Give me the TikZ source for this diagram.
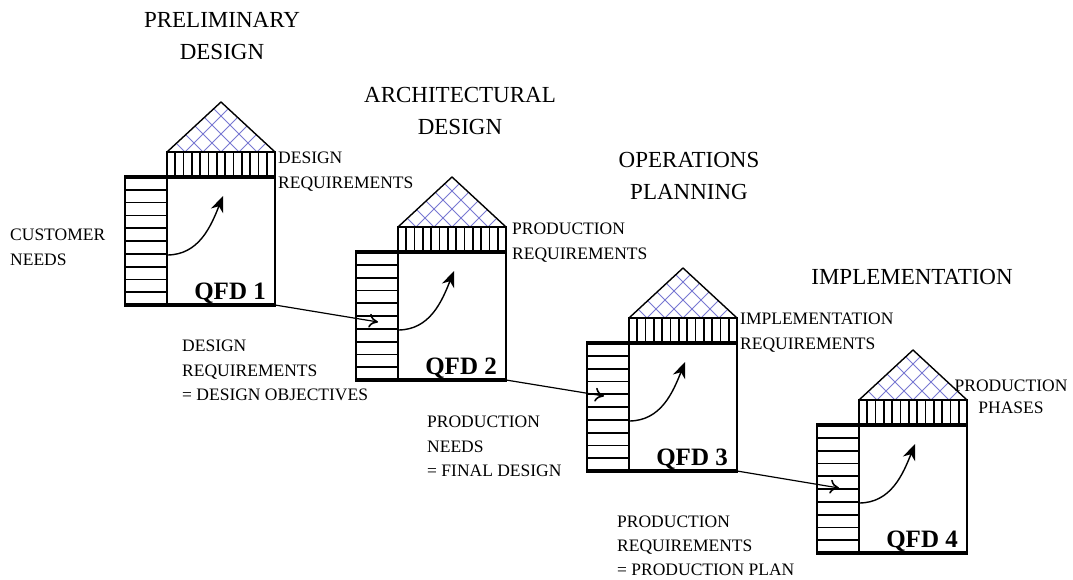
\documentclass[tikz,border=0pt]{standalone}
\usepackage{fontspec}
\setmainfont{Liberation Serif}
\usetikzlibrary{arrows.meta}
\definecolor{hatch}{RGB}{120,120,210}
\tikzset{
  outl/.style={line width=1.4pt},
  bar/.style={line width=4pt},
  stripe/.style={line width=1.8pt},
  vstripe/.style={line width=1.7pt},
  hatchline/.style={draw=hatch, line width=0.9pt},
  curvearrow/.style={line width=1.4pt, -{Stealth[length=16pt,width=13pt,inset=5pt]}},
  flowarrow/.style={line width=1.2pt, -{To[length=9pt,width=14pt,line width=1.6pt]}},
  title/.style={font=\fontsize{23}{32}\selectfont, align=center, anchor=north, inner sep=0pt},
  lbl/.style={font=\fontsize{17.5}{24.5}\selectfont, align=left, anchor=north west, inner sep=0pt},
  qfd/.style={font=\fontsize{25}{25}\selectfont\bfseries, anchor=base east, inner sep=0pt},
  house/.pic={
    \begin{scope}
      \clip (42,-25) -- (96,-75) -- (150,-25) -- cycle;
      \foreach \k in {0,...,6} {
        \draw[hatchline] (42+\k*18,-25) -- ++(70,-70);
        \draw[hatchline] (150-\k*18,-25) -- ++(-70,-70);
      }
    \end{scope}
    \draw[outl, line join=round] (42,-25) -- (96,-75) -- (150,-25);
    \foreach \i in {1,...,12} \draw[vstripe] ({42+\i*108/13},-25) -- ++(0,25);
    \draw[outl] (42,-25) rectangle (150,0);
    \foreach \i in {1,...,9} \draw[stripe] (0,{\i*12.8}) -- (42,{\i*12.8});
    \draw[line width=2.2pt] (0,0) -- (0,128);
    \draw[outl] (42,0) -- (42,128);
    \draw[outl] (150,0) -- (150,128);
    \draw[bar] (-1,0) -- (151,0);
    \draw[bar] (-1,128) -- (151,128);
    \coordinate (-br) at (150,128);
    \coordinate (-cs) at (42,78);
    \coordinate (-ce) at (98,19);
    \draw[curvearrow] (-cs) .. controls +(32,0) and +(-12,30) .. (-ce);
    \node[qfd] (-lab) at (141,122) {#1};
  }
}
\begin{document}
\begin{tikzpicture}[x=1pt,y=-1pt]
\path[use as bounding box, fill=white] (0,0) rectangle (1073,580);

\pic (h1) at (125,177) {house={QFD 1}};
\pic (h2) at (356,252) {house={QFD 2}};
\pic (h3) at (587,343) {house={QFD 3}};
\pic (h4) at (817,425) {house={QFD 4}};

\coordinate (t2) at (378,322);
\coordinate (t3) at (604,396);
\coordinate (t4) at (839,488);
\draw[flowarrow] (h1-br) -- (t2);
\draw[flowarrow] (h2-br) -- (t3);
\draw[flowarrow] (h3-br) -- (t4);

\node[title] (ti1) at (222,12) {PRELIMINARY\\DESIGN};
\node[title] (ti2) at (460,87) {ARCHITECTURAL\\DESIGN};
\node[title] (ti3) at (689,152) {OPERATIONS\\PLANNING};
\node[title] (ti4) at (912,269) {IMPLEMENTATION};

\node[lbl] (cn) at (10,229) {CUSTOMER\\NEEDS};
\node[lbl] (dr1) at (278,152) {DESIGN\\REQUIREMENTS};
\node[lbl] (pr2) at (512,223) {PRODUCTION\\REQUIREMENTS};
\node[lbl] (ir3) at (740,313) {IMPLEMENTATION\\REQUIREMENTS};
\node[lbl, font=\fontsize{17.5}{22}\selectfont, align=center, anchor=north] (pp4) at (1011,380) {PRODUCTION\\PHASES};
\node[lbl] (ob) at (182,340) {DESIGN\\REQUIREMENTS\\= DESIGN OBJECTIVES};
\node[lbl] (fd) at (427,416) {PRODUCTION\\NEEDS\\= FINAL DESIGN};
\node[lbl, font=\fontsize{17.5}{24}\selectfont] (pl) at (617,516) {PRODUCTION\\REQUIREMENTS\\= PRODUCTION PLAN};
\end{tikzpicture}
\end{document}
